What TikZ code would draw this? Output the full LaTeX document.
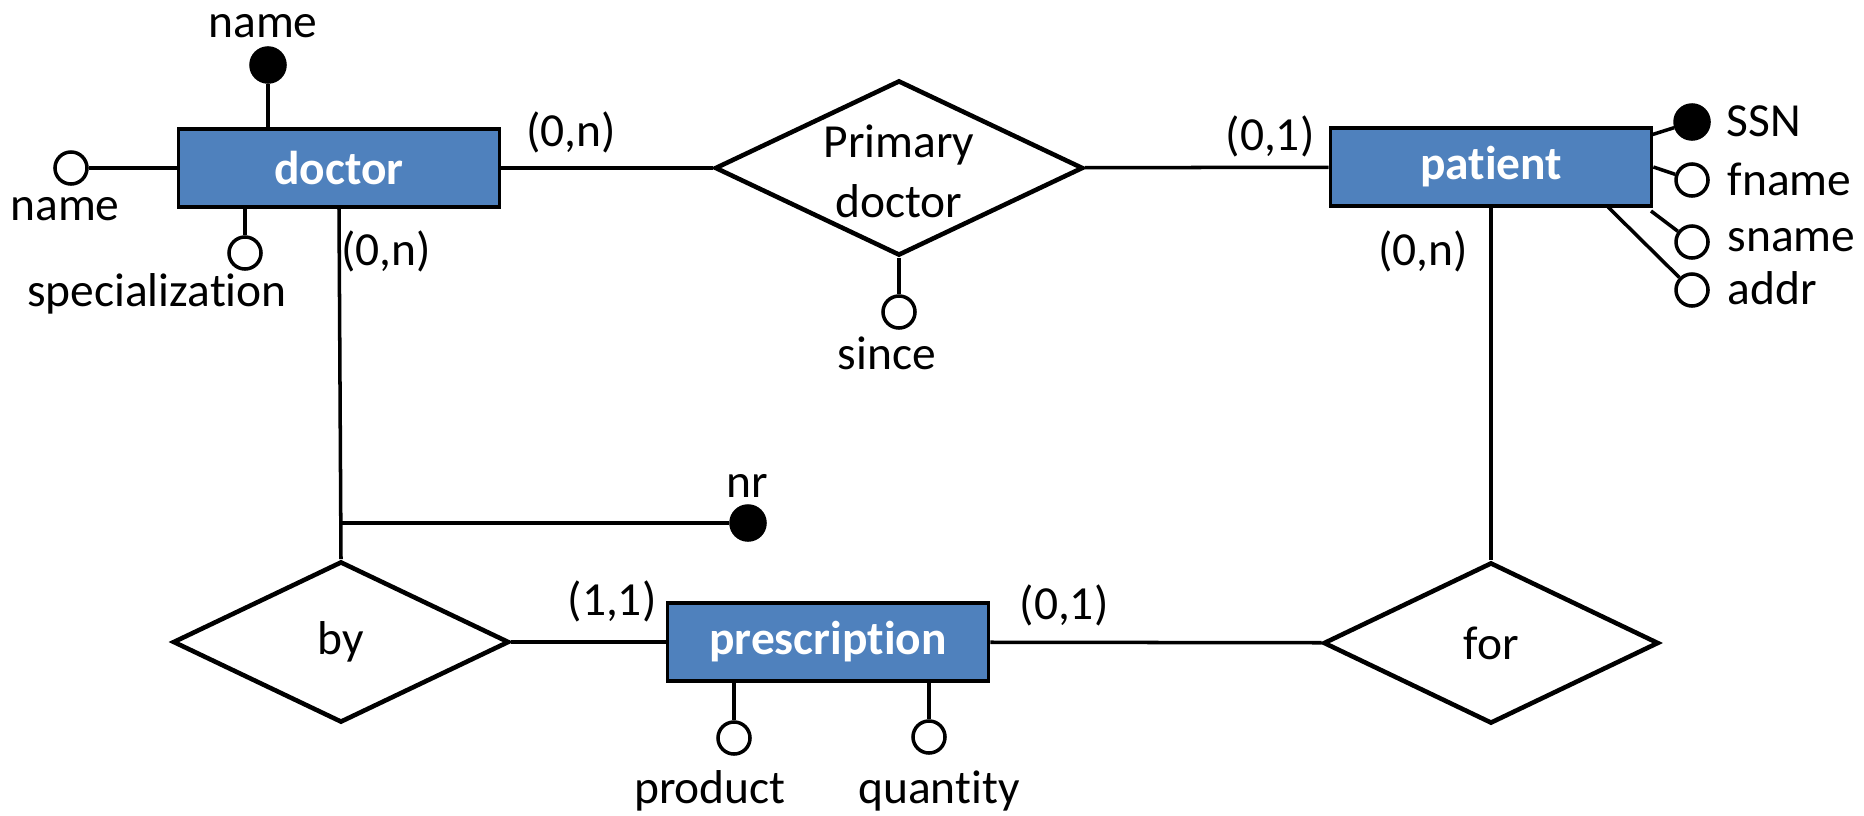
\documentclass[tikz,border=0pt]{standalone}
\usepackage{fontspec}
\setmainfont{Carlito}[Ligatures=NoCommon]
\usetikzlibrary{shapes.geometric,positioning,calc}
\definecolor{entblue}{RGB}{79,129,189}

\begin{document}
\begin{tikzpicture}
    [x=0.01cm, y=-0.01cm,
    font=\fontsize{13.5}{16}\selectfont,
    entity/.style={rectangle, draw=black, line width=1pt, fill=entblue,
    text=white, font=\fontsize{13.5}{16}\selectfont\bfseries,
    minimum width=3.21cm, minimum height=0.78cm},
    rel/.style={diamond, draw=black, line width=1.3pt, inner sep=0pt},
    attr/.style={circle, draw=black, line width=1pt, fill=white,
    minimum size=0.32cm, inner sep=0pt},
    keyattr/.style={attr, fill=black, minimum size=0.34cm},
    txt/.style={inner sep=0pt},
    line/.style={draw, line width=1pt}]

    \useasboundingbox (0,0) rectangle (1864,815);

    % entities and relationships
    \node [entity] (doctor) at (339,168) {doctor};
    \node [entity] (patient) at (1491,167) {patient};
    \node [entity] (prescr) at (828,642) {prescription};

    \node [rel, minimum width=3.68cm, minimum height=1.75cm,
      label={[align=center, yshift=-1pt]center:Primary\\[1pt]doctor}] (primdoc) at (899,168) {};
    \node [rel, minimum width=3.36cm, minimum height=1.61cm,
      label={center:by}] (by) at (341,642) {};
    \node [rel, minimum width=3.35cm, minimum height=1.61cm,
      label={center:for}] (for) at (1491,643) {};

    % attributes
    \node [keyattr] (dname) at (268,65) {};
    \node [txt] (dname_t) at (263,26) {name};
    \node [attr] (dname2) at (71,168) {};
    \node [txt] (dname2_t) at (65,209) {name};
    \node [attr] (dspec) at (245,253) {};
    \node [txt] (dspec_t) at (157,294) {specialization};
    \node [attr] (since) at (899,312) {};
    \node [txt] (since_t) at (887,353) {since};

    \node [keyattr] (ssn) at (1692,122) {};
    \node [txt, anchor=west] (ssn_t) at (1726,121) {SSN};
    \node [attr] (fname) at (1692,180) {};
    \node [txt, anchor=west] (fname_t) at (1727,179) {fname};
    \node [attr] (sname) at (1692,242) {};
    \node [txt, anchor=west] (sname_t) at (1727,240) {sname};
    \node [attr] (addr) at (1692,290) {};
    \node [txt, anchor=west] (addr_t) at (1727,288) {addr};

    \node [keyattr] (nr) at (748,523) {};
    \node [txt] (nr_t) at (747,486) {nr};
    \node [attr] (product) at (734,738) {};
    \node [txt] (product_t) at (710,791) {product};
    \node [attr] (quantity) at (929,737) {};
    \node [txt] (quantity_t) at (939,791) {quantity};

    % cardinalities
    \node [txt] (c_dp) at (571,132) {(0,n)};
    \node [txt] (c_pp) at (1270,136) {(0,1)};
    \node [txt] (c_db) at (386,251) {(0,n)};
    \node [txt] (c_pf) at (1423,251) {(0,n)};
    \node [txt] (c_bp) at (612,601) {(1,1)};
    \node [txt] (c_pr) at (1064,605) {(0,1)};

    \coordinate (ssn_f) at (1651,135);
    \coordinate (sname_f) at (1651,211);
    \coordinate (addr_f) at (1608,207);
    \coordinate (nr_f) at (doctor.south |- nr);

    \begin{scope}[every path/.style=line]
        \path (doctor) -- (primdoc);
        \path (primdoc) -- (patient);
        \path (primdoc) -- (since);
        \path (doctor.south) -- (by.north);
        \path (nr_f) -- (nr);
        \path (by) -- (prescr);
        \path (prescr) -- (for);
        \path (patient.south) -- (for.north);
        \path (dname) -- (dname |- doctor.north);
        \path (dname2) -- (doctor.west);
        \path (dspec) -- (dspec |- doctor.south);
        \path (ssn_f) -- (ssn);
        \path (patient.east) -- (fname);
        \path (sname_f) -- (sname);
        \path (addr_f) -- (addr);
        \path (product) -- (product |- prescr.south);
        \path (quantity) -- (quantity |- prescr.south);
    \end{scope}
\end{tikzpicture}
\end{document}
